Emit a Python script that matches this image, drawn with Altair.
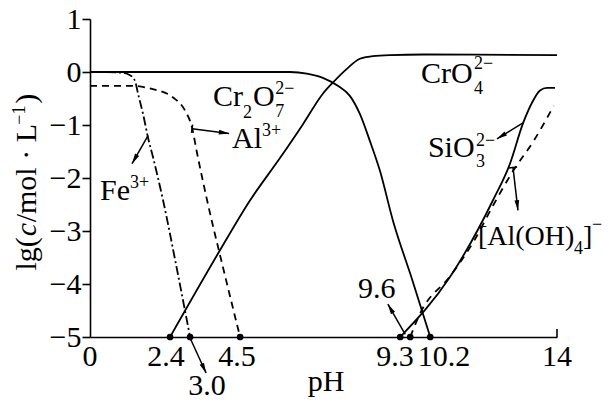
import math
import altair as alt
import pandas as pd

# ---------------- data ----------------
cr2o7_ph = [0, 6.0, 6.5, 6.98, 7.43, 7.79, 8.09, 8.39, 8.69, 9.08, 9.65, 10.2]
cr2o7_lg = [0, 0, -0.03, -0.11, -0.26, -0.45, -0.79, -1.3, -1.86, -2.8, -3.9, -5]

cro4_ph = [2.4, 3.9, 4.8, 5.7, 6.39, 6.98, 7.28, 7.7, 8.09, 8.48, 9.0, 10.0, 14.0]
cro4_lg = [-5, -3.36, -2.42, -1.62, -0.98, -0.41, -0.2, 0.06, 0.25, 0.30, 0.32, 0.33, 0.32]

fe_ph = [0, 0.9, 1.2, 1.35, 1.44, 1.59, 1.74, 1.89, 2.19, 2.6, 3.0]
fe_lg = [0, -0.01, -0.06, -0.17, -0.41, -0.79, -1.24, -1.61, -2.42, -3.7, -5]

al_ph = [0, 1.2, 1.86, 2.49, 2.85, 3.06, 3.2, 3.51, 4.0, 4.5]
al_lg = [-0.26, -0.26, -0.32, -0.48, -0.73, -1.05, -1.5, -2.42, -3.72, -5]

sio3_ph = [9.3, 10.79, 12.08, 12.59, 12.98, 13.25, 13.49, 13.7, 13.94]
sio3_lg = [-5, -3.87, -2.42, -1.73, -0.97, -0.58, -0.35, -0.30, -0.30]

aloh4_ph = [9.6, 9.9, 10.8, 11.5, 12.1, 12.7, 13.3, 13.9]
aloh4_lg = [-5, -4.55, -3.85, -3.2, -2.5, -1.85, -1.3, -0.64]

drop_ph = [2.4, 3.0, 4.5, 9.3, 9.6, 10.2]
drop_lg = [-5, -5, -5, -5, -5, -5]

y_ticks = [-5, -4, -3, -2, -1, 0, 1]

xtick_text = ["0", "2.4", "4.5", "9.3", "10.2", "14", "3.0", "9.6", "pH"]
xtick_x = [0, 2.28, 4.41, 9.14, 10.61, 14.0, 3.51, 8.6, 7.08]
xtick_y = [-5.545, -5.545, -5.545, -5.545, -5.545, -5.545, -6.10, -4.27, -6.02]

# species labels: big parts and small (sub/superscript) parts
big_text = ["Cr", "O", "CrO", "SiO", "Al", "Fe"]
big_x = [3.69, 4.89, 9.92, 10.13, 4.26, 0.30]
big_y = [-0.638, -0.638, -0.203, -1.61, -1.43, -2.42]

small_text = ["2", "2\u2212", "7", "2\u2212", "4", "2\u2212", "3", "3+", "3+"]
small_x = [4.59, 5.55, 5.55, 11.51, 11.51, 11.57, 11.57, 5.16, 1.20]
small_y = [-0.863, -0.41, -0.85, 0.06, -0.41, -1.39, -1.80, -1.20, -2.18]

aloh_text = ["[Al(OH)", "]"]
aloh_x = [11.63, 14.78]
aloh_y = [-3.27, -3.27]
aloh_s_text = ["4", "\u2212"]
aloh_s_x = [14.51, 15.05]
aloh_s_y = [-3.44, -2.99]

# y-axis title pieces (rotated)
title_text = ["lg(", "c", "/mol \u00b7 L", ")"]
title_style = ["normal", "italic", "normal", "normal"]
title_x = [-1.62, -1.62, -1.62, -1.62]
title_y = [-3.745, -3.10, -2.836, -0.598]
title_s_text = ["\u22121"]
title_s_x = [-1.95]
title_s_y = [-0.993]

# annotation arrows (start -> end), with optional tick bar at start
arr_x0 = [3.06, 1.74, 3.0, 9.45, 12.98, 12.68]
arr_y0 = [-1.07, -1.20, -5.02, -4.95, -0.96, -1.80]
arr_x1 = [4.17, 1.26, 3.48, 8.93, 12.2, 12.83]
arr_y1 = [-1.16, -1.73, -5.68, -4.38, -1.26, -2.61]
arr_bar = [True, False, False, False, False, True]

# ---------------- layout ----------------
W, H = 467, 318
KX = W / 14.0
KY = H / 6.0
FONT = "Liberation Serif"

xs = alt.Scale(domain=[0, 14], nice=False, zero=False)
ys = alt.Scale(domain=[-5, 1], nice=False, zero=False)
xaxis = alt.Axis(title="", ticks=False, labels=False, grid=False, domainColor="black",
                 domainWidth=1.6)
yaxis = alt.Axis(title="", values=y_ticks, grid=False, domainColor="black", domainWidth=1.6,
                 tickColor="black", tickWidth=1.6, tickSize=8, labelFont=FONT,
                 labelFontSize=30, labelColor="black", labelPadding=1, labelOverlap=False,
                 labelBound=False, labelFlush=False)


def X(f="pH"):
    return alt.X(f"{f}:Q", scale=xs, axis=xaxis)


def Y(f="lg"):
    return alt.Y(f"{f}:Q", scale=ys, axis=yaxis)


def curve(ph, lg, dash=None):
    df = pd.DataFrame({"pH": ph, "lg": lg})
    kw = dict(color="black", strokeWidth=1.8, interpolate="monotone")
    if dash:
        kw["strokeDash"] = dash
    return alt.Chart(df).mark_line(**kw).encode(x=X(), y=Y())


layers = [
    curve(cr2o7_ph, cr2o7_lg),
    curve(cro4_ph, cro4_lg),
    curve(sio3_ph, sio3_lg),
    curve(fe_ph, fe_lg, [9, 3, 2, 3]),
    curve(al_ph, al_lg, [7, 5]),
    curve(aloh4_ph, aloh4_lg, [7, 6]),
]

# x-axis end tick at 14 (pointing up)
tick_df = pd.DataFrame({"pH": [14], "lg": [-5], "lg2": [-5 + 8 / KY]})
layers.append(alt.Chart(tick_df).mark_rule(color="black", strokeWidth=1.6).encode(
    x=X(), y=Y(), y2="lg2:Q"))

# dots
dots = pd.DataFrame({"pH": drop_ph, "lg": drop_lg})
layers.append(alt.Chart(dots).mark_circle(color="black", size=45, opacity=1).encode(x=X(), y=Y()))

# arrows
heads = []
bars = []
for x0, y0, x1, y1, b in zip(arr_x0, arr_y0, arr_x1, arr_y1, arr_bar):
    dx = (x1 - x0) * KX
    dy = -(y1 - y0) * KY
    L = math.hypot(dx, dy)
    ux, uy = dx / L, dy / L
    ang = math.degrees(math.atan2(dx, -dy)) % 360
    heads.append({"pH": x1 - ux * 5.0 / KX, "lg": y1 + uy * 5.0 / KY, "ang": ang})
    if b:
        bars.append({"pH": x0, "lg": y0, "ang": ang})
arr_df = pd.DataFrame({"pH": arr_x0, "lg": arr_y0, "pH2": arr_x1, "lg2": arr_y1})
layers.append(alt.Chart(arr_df).mark_rule(color="black", strokeWidth=1.5).encode(
    x=X(), y=Y(), x2="pH2:Q", y2="lg2:Q"))
layers.append(alt.Chart(pd.DataFrame(heads)).mark_point(
    shape="M0,-1L0.45,1L-0.45,1Z", filled=True, color="black", size=110, opacity=1).encode(
    x=X(), y=Y(), angle=alt.Angle("ang:Q", scale=None)))
layers.append(alt.Chart(pd.DataFrame(bars)).mark_point(
    shape="M-1,0L1,0", filled=False, color="black", strokeWidth=1.5, size=70, opacity=1).encode(
    x=X(), y=Y(), angle=alt.Angle("ang:Q", scale=None)))


def texts(txt, xx, yy, size, align="left", angle=0, style="normal"):
    df = pd.DataFrame({"t": txt, "pH": xx, "lg": yy})
    return alt.Chart(df).mark_text(font=FONT, fontSize=size, align=align, baseline="alphabetic",
                                   color="black", angle=angle, fontStyle=style).encode(
        x=X(), y=Y(), text="t:N")


layers.append(texts(xtick_text, xtick_x, xtick_y, 30, align="center"))
layers.append(texts(big_text, big_x, big_y, 30))
layers.append(texts(small_text, small_x, small_y, 18))
layers.append(texts(aloh_text, aloh_x, aloh_y, 28))
layers.append(texts(aloh_s_text, aloh_s_x, aloh_s_y, 18))
for t, s, xx, yy in zip(title_text, title_style, title_x, title_y):
    layers.append(texts([t], [xx], [yy], 30, angle=270, style=s))
layers.append(texts(title_s_text, title_s_x, title_s_y, 18, angle=270))

chart = alt.layer(*layers).properties(
    width=W, height=H,
    autosize=alt.AutoSizeParams(type="none"),
    padding={"left": 82, "top": 11, "right": 50, "bottom": 65},
    background="white",
).configure_view(strokeWidth=0)

chart.save("out.html", embed_options={"renderer": "svg", "actions": False})
